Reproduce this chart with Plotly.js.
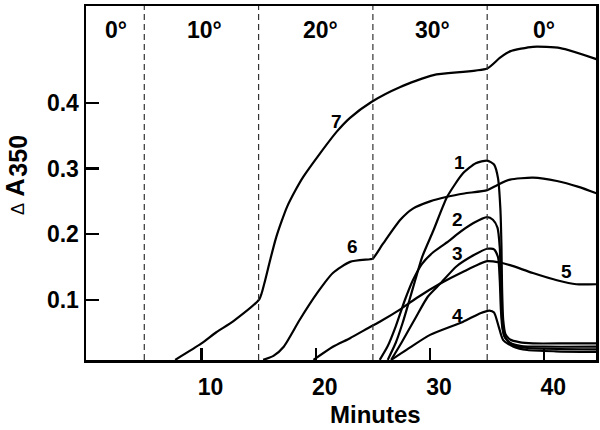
<!DOCTYPE html>
<html>
<head>
<meta charset="utf-8">
<script src="https://cdn.plot.ly/plotly-3.0.1.min.js"></script>
<style>html,body{margin:0;padding:0;background:#fff;}#chart{width:600px;height:430px;}</style>
</head>
<body>
<div id="chart"></div>
<script>
// ---- data (minutes, ΔA350) ----
const c1x = [26.3, 27.0, 27.6, 28.2, 28.7, 29.3, 30.3, 31.5, 32.9, 34.0, 35.0, 35.6, 35.95, 36.15, 36.25, 36.3, 36.4, 36.6, 37.0, 37.8, 39.0, 42.0, 44.6];
const c1y = [0.009, 0.035, 0.065, 0.100, 0.130, 0.165, 0.206, 0.257, 0.293, 0.308, 0.312, 0.306, 0.285, 0.240, 0.180, 0.120, 0.070, 0.048, 0.040, 0.036, 0.034, 0.034, 0.034];

const c2x = [25.6, 26.3, 27.0, 27.8, 28.5, 29.3, 30.3, 31.75, 32.3, 33.8, 35.0, 35.5, 35.9, 36.1, 36.2, 36.3, 36.5, 37.0, 38.0, 40.0, 44.6];
const c2y = [0.009, 0.030, 0.060, 0.100, 0.130, 0.155, 0.173, 0.191, 0.199, 0.217, 0.226, 0.222, 0.210, 0.180, 0.120, 0.070, 0.045, 0.035, 0.030, 0.029, 0.029];

const c3x = [26.6, 27.5, 28.8, 29.8, 30.9, 32.3, 33.8, 35.0, 35.6, 35.95, 36.1, 36.2, 36.35, 36.6, 37.2, 38.5, 44.6];
const c3y = [0.009, 0.035, 0.075, 0.105, 0.125, 0.151, 0.168, 0.178, 0.177, 0.165, 0.130, 0.085, 0.055, 0.042, 0.032, 0.027, 0.025];

const c4x = [26.6, 28.0, 30.0, 32.9, 34.4, 35.2, 35.6, 36.0, 36.4, 37.3, 38.5, 41.0, 44.6];
const c4y = [0.009, 0.025, 0.047, 0.067, 0.080, 0.084, 0.081, 0.060, 0.039, 0.029, 0.024, 0.022, 0.021];

const c5x = [19.8, 21.5, 23.0, 24.75, 25.6, 27.5, 29.0, 30.9, 32.9, 35.0, 36.1, 37.0, 39.0, 41.1, 42.8, 44.6];
const c5y = [0.009, 0.029, 0.042, 0.059, 0.067, 0.087, 0.105, 0.125, 0.143, 0.159, 0.157, 0.153, 0.141, 0.130, 0.124, 0.124];

const c6x = [15.4, 16.3, 17.2, 18.6, 20.1, 21.5, 23.0, 24.75, 25.0, 25.9, 27.4, 28.5, 30.0, 31.5, 33.0, 35.0, 35.9, 37.0, 39.0, 41.1, 43.0, 44.6];
const c6y = [0.009, 0.015, 0.029, 0.070, 0.110, 0.141, 0.158, 0.162, 0.163, 0.186, 0.222, 0.239, 0.250, 0.257, 0.262, 0.267, 0.275, 0.283, 0.286, 0.281, 0.272, 0.262];

const c7x = [7.7, 10.0, 11.3, 12.8, 15.07, 15.5, 16.0, 16.5, 17.0, 17.5, 18.2, 18.92, 20.38, 21.84, 23.0, 24.9, 27.4, 30.3, 35.0, 36.1, 37.0, 39.0, 41.4, 44.6];
const c7y = [0.009, 0.034, 0.051, 0.068, 0.1015, 0.125, 0.160, 0.193, 0.219, 0.242, 0.266, 0.2875, 0.323, 0.356, 0.377, 0.4015, 0.424, 0.442, 0.452, 0.468, 0.478, 0.485, 0.483, 0.466];

const curveLabels = ["1", "2", "3", "4", "5", "6", "7"];
const curveLabelX = [32.6, 32.4, 32.4, 32.4, 41.96, 23.2, 21.8];
const curveLabelY = [0.309, 0.223, 0.171, 0.077, 0.143, 0.181, 0.371];

const phaseBoundaries = [5, 15, 25, 35];
const phaseLabels = ["0°", "10°", "20°", "30°", "0°"];
const phaseLabelX = [2.5, 10.3, 20.4, 30.2, 40.0];

const xTickVals = [10, 20, 30, 40];
const xTickText = ["10", "20", "30", "40"];
const yTickVals = [0.1, 0.2, 0.3, 0.4];
const yTickText = ["0.1", "0.2", "0.3", "0.4"];

const yTitleParts = ["Δ", "A", "350"];

// ---- build ----
const FONT = "Liberation Sans, Arial, Helvetica, sans-serif";
const series = [[c1x, c1y], [c2x, c2y], [c3x, c3y], [c4x, c4y], [c5x, c5y], [c6x, c6y], [c7x, c7y]];
const traces = series.map(function (s) {
  return {
    x: s[0], y: s[1], type: "scatter", mode: "lines",
    line: {color: "#000", width: 2.2, shape: "spline", smoothing: 0.6},
    hoverinfo: "skip", showlegend: false
  };
});

const shapes = phaseBoundaries.map(function (b) {
  return {type: "line", xref: "x", yref: "paper", x0: b, x1: b, y0: 0, y1: 1,
    line: {color: "#333", width: 1.2, dash: "6px,4px"}};
});

const annotations = [];
phaseLabels.forEach(function (t, i) {
  annotations.push({text: t, x: phaseLabelX[i], y: 0.51, xref: "x", yref: "y", showarrow: false,
    font: {family: FONT, size: 23, color: "#000", weight: "bold"}});
});
curveLabels.forEach(function (t, i) {
  annotations.push({text: t, x: curveLabelX[i], y: curveLabelY[i], xref: "x", yref: "y", showarrow: false,
    font: {family: FONT, size: 19, color: "#000", weight: "bold"}});
});
annotations.push({text: "Minutes", x: 0.567, y: -0.153, xref: "paper", yref: "paper", showarrow: false,
  xanchor: "center", yanchor: "middle",
  font: {family: FONT, size: 24, color: "#000", weight: "bold"}});
// y-axis title, rotated, in three parts (Δ, A, subscript 350)
const yTitlePos = [[-0.1324, 0.428, 18, "normal"], [-0.1392, 0.487, 25, "bold"], [-0.1335, 0.577, 25, "bold"]];
yTitleParts.forEach(function (t, i) {
  const p = yTitlePos[i];
  annotations.push({text: t, x: p[0], y: p[1], xref: "paper", yref: "paper", showarrow: false,
    textangle: -90, xanchor: "center", yanchor: "middle",
    font: {family: FONT, size: p[2], color: "#000", weight: p[3]}});
});

const layout = {
  width: 600, height: 430,
  margin: {l: 86, r: 4, t: 6, b: 70},
  paper_bgcolor: "#fff", plot_bgcolor: "#fff",
  showlegend: false,
  xaxis: {
    range: [-0.1, 44.52], tickvals: xTickVals, ticktext: xTickText,
    ticks: "inside", ticklen: 12, tickwidth: 2.2, tickcolor: "#000",
    showline: true, linewidth: 2.5, linecolor: "#000", mirror: true,
    showgrid: false, zeroline: false, ticklabelshift: 9, ticklabelstandoff: 5,
    tickfont: {family: FONT, size: 23, color: "#000", weight: "bold"}
  },
  yaxis: {
    range: [0.0088, 0.547], tickvals: yTickVals, ticktext: yTickText,
    ticks: "inside", ticklen: 13, tickwidth: 2.2, tickcolor: "#000",
    showline: true, linewidth: 2.5, linecolor: "#000", mirror: true,
    showgrid: false, zeroline: false, ticklabelstandoff: 0,
    tickfont: {family: FONT, size: 23, color: "#000", weight: "bold"}
  },
  shapes: shapes,
  annotations: annotations
};

Plotly.newPlot("chart", traces, layout, {displayModeBar: false, staticPlot: true});
</script>
</body>
</html>
